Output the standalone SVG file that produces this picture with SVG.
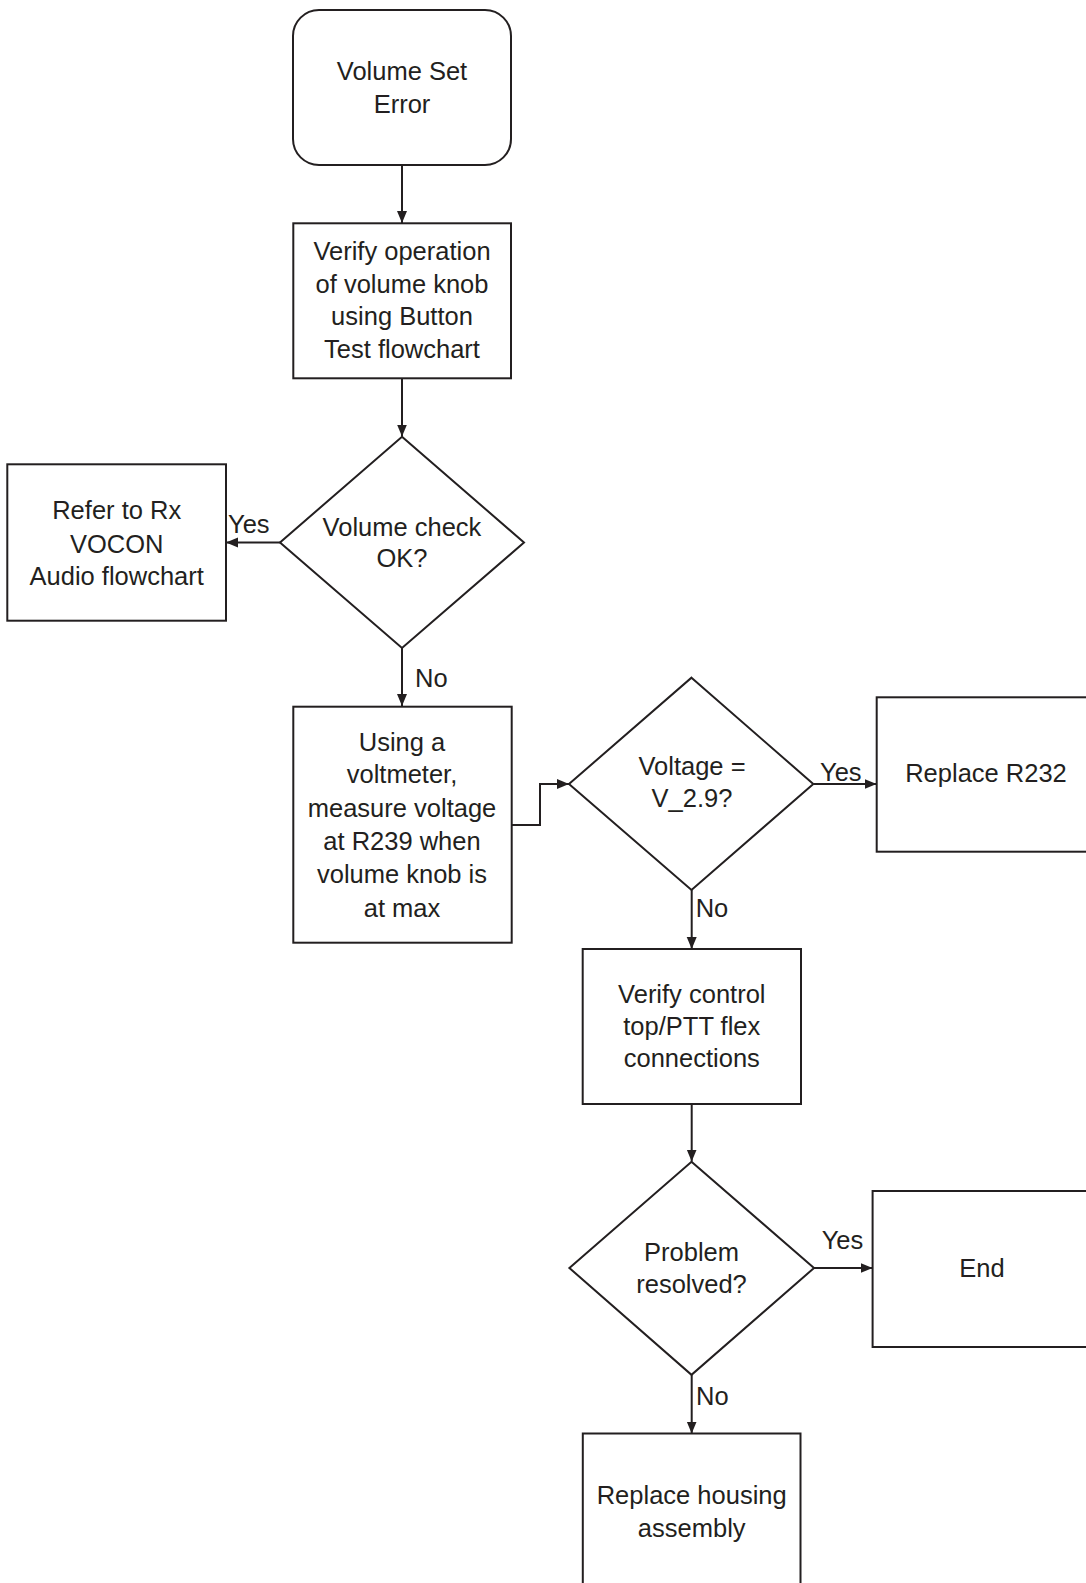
<svg xmlns="http://www.w3.org/2000/svg" width="1086" height="1583" viewBox="0 0 1086 1583">
<style>
.n{fill:#ffffff;stroke:#231f20;stroke-width:2}
.t{font-family:"Liberation Sans",Arial,sans-serif;font-size:25.5px;fill:#231f20;text-anchor:middle}
.l{font-family:"Liberation Sans",Arial,sans-serif;font-size:25.5px;fill:#231f20}
.c{fill:none;stroke:#231f20;stroke-width:2}
</style>
<defs>
<marker id="ah" markerUnits="userSpaceOnUse" markerWidth="13" markerHeight="12" refX="12" refY="6" orient="auto">
<path d="M0,1 L12,6 L0,11 z" fill="#231f20"/>
</marker>
</defs>
<rect width="1086" height="1583" fill="#ffffff"/>
<g id="connectors">
<line class="c" x1="402" y1="165" x2="402" y2="223" marker-end="url(#ah)"/>
<line class="c" x1="402" y1="378" x2="402" y2="436.5" marker-end="url(#ah)"/>
<line class="c" x1="280" y1="542.5" x2="226" y2="542.5" marker-end="url(#ah)"/>
<line class="c" x1="402" y1="648" x2="402" y2="706" marker-end="url(#ah)"/>
<polyline class="c" points="511.5,825 540,825 540,784 569,784" marker-end="url(#ah)"/>
<line class="c" x1="813.5" y1="784" x2="876.5" y2="784" marker-end="url(#ah)"/>
<line class="c" x1="691.7" y1="890" x2="691.7" y2="949" marker-end="url(#ah)"/>
<line class="c" x1="691.7" y1="1104" x2="691.7" y2="1161.5" marker-end="url(#ah)"/>
<line class="c" x1="814" y1="1268" x2="872.5" y2="1268" marker-end="url(#ah)"/>
<line class="c" x1="691.7" y1="1375" x2="691.7" y2="1433.5" marker-end="url(#ah)"/>
<text class="l" x="228" y="532.7">Yes</text>
<text class="l" x="415" y="686.7">No</text>
<text class="l" x="820" y="781">Yes</text>
<text class="l" x="695.7" y="917">No</text>
<text class="l" x="821.7" y="1249">Yes</text>
<text class="l" x="696" y="1405">No</text>
</g>
<g id="start">
<rect class="n" x="293" y="10" width="218" height="155" rx="26" ry="26"/>
<text class="t" x="402" y="80">Volume Set</text>
<text class="t" x="402" y="112.5">Error</text>
</g>
<g id="verify-knob">
<rect class="n" x="293.3" y="223.3" width="217.7" height="155"/>
<text class="t" x="402" y="260">Verify operation</text>
<text class="t" x="402" y="292.5">of volume knob</text>
<text class="t" x="402" y="325">using Button</text>
<text class="t" x="402" y="357.7">Test flowchart</text>
</g>
<g id="volume-check">
<polygon class="n" points="402,436.7 524,542.5 402,648 280,542.5"/>
<text class="t" x="402" y="536">Volume check</text>
<text class="t" x="402" y="566.7">OK?</text>
</g>
<g id="refer-rx">
<rect class="n" x="7.3" y="464.3" width="218.7" height="156.4"/>
<text class="t" x="116.7" y="519.3">Refer to Rx</text>
<text class="t" x="116.7" y="552.7">VOCON</text>
<text class="t" x="116.7" y="585">Audio flowchart</text>
</g>
<g id="measure">
<rect class="n" x="293.3" y="706.7" width="218.4" height="236"/>
<text class="t" x="402" y="750.5">Using a</text>
<text class="t" x="402" y="783">voltmeter,</text>
<text class="t" x="402" y="817">measure voltage</text>
<text class="t" x="402" y="850">at R239 when</text>
<text class="t" x="402" y="883">volume knob is</text>
<text class="t" x="402" y="916.5">at max</text>
</g>
<g id="voltage-check">
<polygon class="n" points="691.5,677.7 813.3,784 691.5,890 569,784"/>
<text class="t" x="692" y="775">Voltage =</text>
<text class="t" x="692" y="806.5">V_2.9?</text>
</g>
<g id="replace-r232">
<rect class="n" x="876.7" y="697.3" width="218" height="154.4"/>
<text class="t" x="986" y="782.3">Replace R232</text>
</g>
<g id="verify-flex">
<rect class="n" x="582.7" y="949" width="218.3" height="155"/>
<text class="t" x="691.8" y="1002.7">Verify control</text>
<text class="t" x="691.8" y="1035">top/PTT flex</text>
<text class="t" x="691.8" y="1066.7">connections</text>
</g>
<g id="problem-resolved">
<polygon class="n" points="691.5,1161.7 814,1268 691.5,1374.8 569.4,1268"/>
<text class="t" x="691.5" y="1260.7">Problem</text>
<text class="t" x="691.5" y="1293.2">resolved?</text>
</g>
<g id="end">
<rect class="n" x="872.6" y="1191" width="218" height="156"/>
<text class="t" x="982" y="1276.8">End</text>
</g>
<g id="replace-housing">
<rect class="n" x="582.8" y="1433.5" width="217.7" height="200"/>
<text class="t" x="691.7" y="1504">Replace housing</text>
<text class="t" x="691.7" y="1537">assembly</text>
</g>
</svg>
